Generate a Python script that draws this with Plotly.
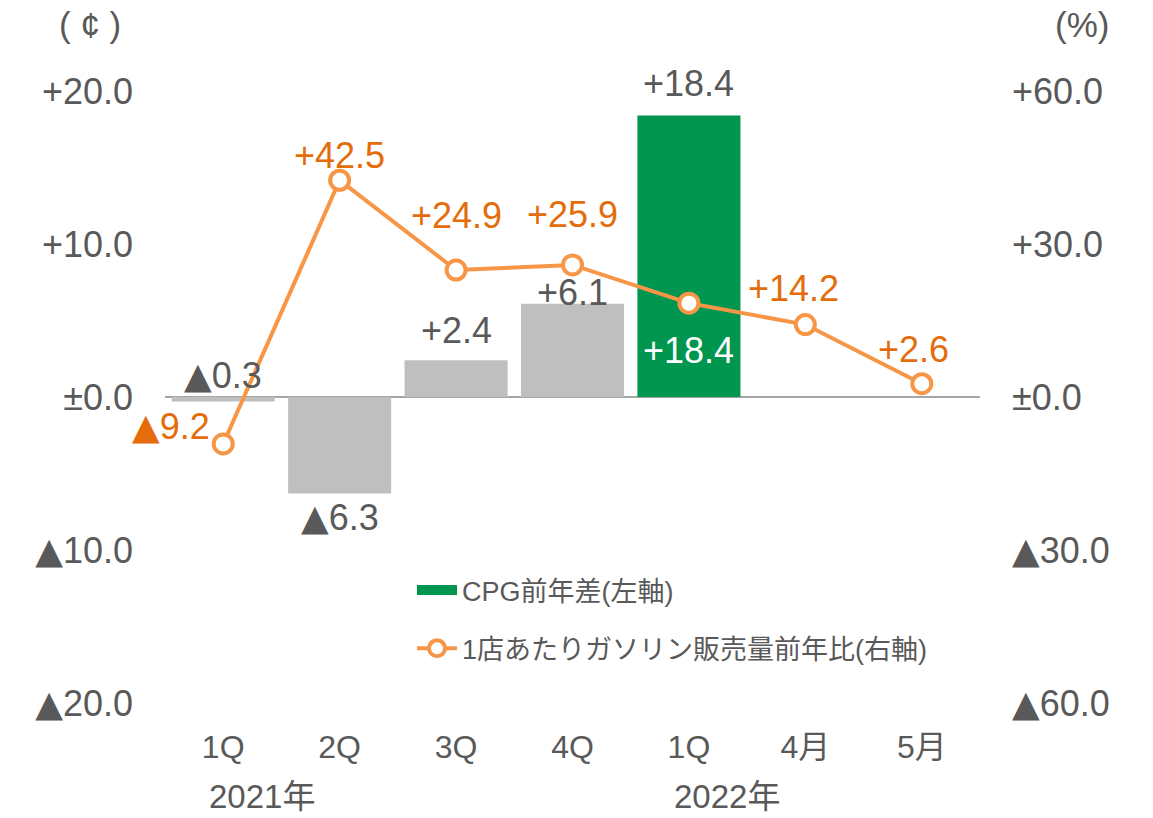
import plotly.graph_objects as go

categories = ["1Q", "2Q", "3Q", "4Q", "1Q", "4月", "5月"]
year_labels = ["2021年", "2022年"]
year_positions = [0.33, 4.33]
cpg_diff = [-0.3, -6.3, 2.4, 6.1, 18.4, None, None]
gas_yoy = [-9.2, 42.5, 24.9, 25.9, 18.4, 14.2, 2.6]
left_ticks = [20, 10, 0, -10, -20]
left_tick_text = ["+20.0", "+10.0", "±0.0", "▲10.0", "▲20.0"]
right_ticks = [60, 30, 0, -30, -60]
right_tick_text = ["+60.0", "+30.0", "±0.0", "▲30.0", "▲60.0"]
bar_name = "CPG前年差(左軸)"
line_name = "1店あたりガソリン販売量前年比(右軸)"

FONT = "Liberation Sans, Arial, DejaVu Sans, Noto Sans CJK JP, sans-serif"
GRAY_TXT = "#595959"
BAR_GRAY = "#BFBFBF"
GREEN = "#00964F"
LINE_OR = "#F79646"
LABEL_OR = "#E46C0A"

TRI = '<span style="font-family:DejaVu Sans">▲</span>'


def big_tri(s):
    return s.replace("▲", TRI)


def fmt(v):
    if v > 0:
        return "+%.1f" % v
    if v < 0:
        return big_tri("▲%.1f" % abs(v))
    return "±0.0"


x = list(range(len(categories)))
bar_colors = [GREEN if i == 4 else BAR_GRAY for i in x]

fig = go.Figure()
fig.add_trace(go.Bar(x=x, y=cpg_diff, marker=dict(color=bar_colors, line=dict(width=0)),
                     width=0.885, showlegend=False, yaxis="y", hoverinfo="skip"))
# legend entry for the bar series (green swatch)
fig.add_trace(go.Scatter(x=[None], y=[None], mode="lines", name=bar_name,
                         line=dict(color=GREEN, width=16), legendgroup="a", yaxis="y"))
fig.add_trace(go.Scatter(x=x, y=gas_yoy, mode="lines+markers", name=line_name,
                         legendgroup="b", yaxis="y2", hoverinfo="skip",
                         line=dict(color=LINE_OR, width=4),
                         marker=dict(symbol="circle", size=19, color="white",
                                     line=dict(color=LINE_OR, width=4))))

ann = []
# bar labels (pixel offsets)
bar_offsets = [22, -24, 30, 11, 32, 0, 0]
for i, v in enumerate(cpg_diff):
    if v is None:
        continue
    yv = 0 if i == 0 else v
    ann.append(dict(x=i, y=yv, xref="x", yref="y", text=fmt(v), showarrow=False,
                    yshift=bar_offsets[i], yanchor="middle",
                    font=dict(size=36, color=GRAY_TXT, family=FONT)))
# line labels (offsets in px)
line_offsets = [(-52, 17), (0, 25), (0, 55), (0, 50), (0, -47), (-12, 36), (-8, 34)]
for i, v in enumerate(gas_yoy):
    dx, dy = line_offsets[i]
    col = "white" if i == 4 else LABEL_OR
    ann.append(dict(x=i, y=v, xref="x", yref="y2", text=fmt(v), showarrow=False,
                    xshift=dx, yshift=dy, yanchor="middle",
                    font=dict(size=36, color=col, family=FONT)))
# year labels
for lbl, pos in zip(year_labels, year_positions):
    ann.append(dict(x=pos, y=0, xref="x", yref="paper", text=lbl, showarrow=False,
                    yshift=-93, yanchor="middle", xanchor="center",
                    font=dict(size=33, color=GRAY_TXT, family=FONT)))

L, R, T, B = 165, 173, 91, 115
W, H = 1153, 818
pw, ph = W - L - R, H - T - B
# axis unit titles (pixel positions converted to paper)
ann.append(dict(x=(90 - L) / pw, y=(H - B - 25) / ph, xref="paper", yref="paper",
                text="( ¢ )", showarrow=False, xanchor="center", yanchor="middle",
                font=dict(size=35, color=GRAY_TXT, family=FONT)))
ann.append(dict(x=(1082 - L) / pw, y=(H - B - 25) / ph, xref="paper", yref="paper",
                text="(%)", showarrow=False, xanchor="center", yanchor="middle",
                font=dict(size=35, color=GRAY_TXT, family=FONT)))

fig.update_layout(
    width=W, height=H,
    margin=dict(l=L, r=R, t=T, b=B),
    paper_bgcolor="white", plot_bgcolor="white",
    font=dict(family=FONT, color=GRAY_TXT, size=28),
    annotations=ann,
    showlegend=True,
    hovermode=False,
    legend=dict(x=(412 - L) / pw, y=(H - B - 566) / ph, xanchor="left", yanchor="top",
                font=dict(size=27, color=GRAY_TXT, family=FONT),
                bgcolor="rgba(0,0,0,0)", tracegroupgap=20, itemwidth=40),
    xaxis=dict(range=[-0.5, 6.5], tickvals=x, ticktext=categories, showgrid=False,
               zeroline=False, showline=False, ticks="", ticklabelstandoff=22,
               tickfont=dict(size=32, color=GRAY_TXT, family=FONT), fixedrange=True),
    yaxis=dict(range=[-20, 20], tickvals=left_ticks,
               ticktext=[big_tri(t) for t in left_tick_text],
               showgrid=False, zeroline=True, zerolinecolor="#A6A6A6", zerolinewidth=1.5,
               showline=False, ticks="", ticklabelstandoff=31, fixedrange=True,
               tickfont=dict(size=36, color=GRAY_TXT, family=FONT)),
    yaxis2=dict(range=[-60, 60], tickvals=right_ticks,
                ticktext=[big_tri(t) for t in right_tick_text],
                overlaying="y", side="right", showgrid=False, zeroline=False,
                showline=False, ticks="", ticklabelstandoff=31, fixedrange=True,
                tickfont=dict(size=36, color=GRAY_TXT, family=FONT)),
)

fig.write_html("out.html", config={"displayModeBar": False},
               post_script="document.body.style.margin='0';")
